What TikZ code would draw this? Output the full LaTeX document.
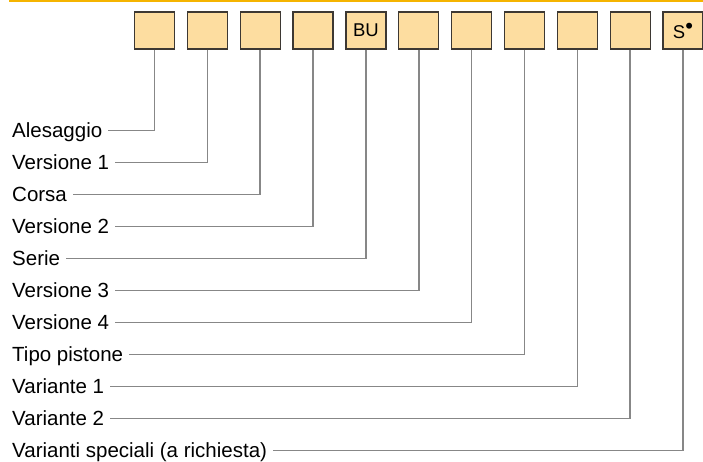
\documentclass[tikz,border=0pt]{standalone}
\usepackage{fontspec}
\setmainfont{Liberation Sans}
\begin{document}
\begin{tikzpicture}[x=1pt, y=-1pt, font=\fontsize{20.5}{24}\selectfont,
  code/.style={draw=boxline, fill=boxfill, line width=1.2pt, minimum width=40pt,
    minimum height=37pt, inner sep=0pt, font=\fontsize{18.5}{20}\selectfont},
  lab/.style={anchor=west, text height=14pt, text depth=0pt, inner xsep=6pt},
  lead/.style={draw=leadgray, line width=1.5pt}]
\definecolor{boxfill}{RGB}{253,221,160}
\definecolor{boxline}{RGB}{61,56,51}
\definecolor{leadgray}{RGB}{135,135,135}
\definecolor{topbar}{RGB}{245,180,0}
\useasboundingbox (0,0) rectangle (703,461);
\draw[topbar, line width=2pt] (9,1) -- (703,1);
% code boxes
\foreach \t [count=\i from 0] in {{},{},{},{},BU,{},{},{},{},{},
    S\raisebox{5pt}{\fontsize{22}{22}\selectfont\textbullet}}
  \node[code] (b\i) at (154.5+52.85*\i, 30.5) {\t};
% labels and leads
\foreach \t [count=\i from 0] in {Alesaggio, Versione 1, Corsa, Versione 2, Serie,
    Versione 3, Versione 4, Tipo pistone, Variante 1, Variante 2,
    Varianti speciali (a richiesta)}{
  \node[lab] (l\i) at (6, 130.5+32*\i) {\t};
  \draw[lead] (b\i.south) |- (l\i.east);}
\end{tikzpicture}
\end{document}
